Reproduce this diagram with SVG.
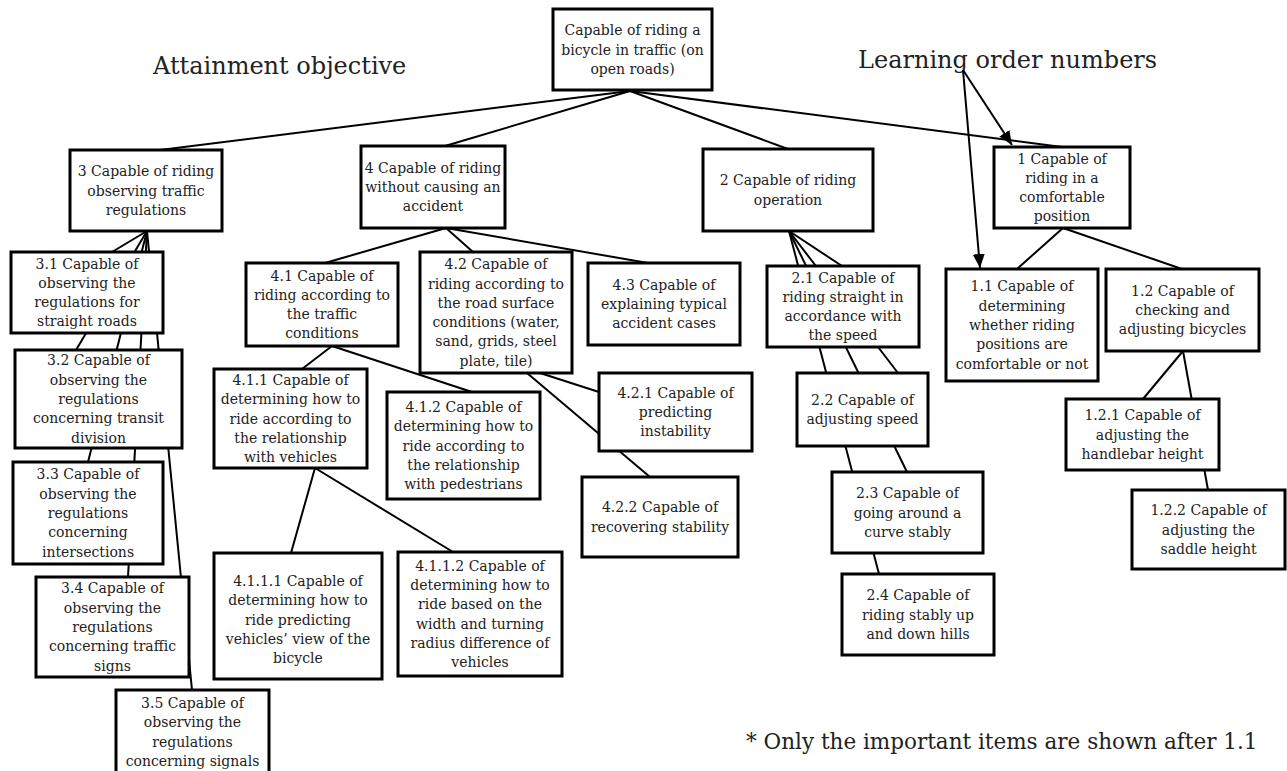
<svg xmlns="http://www.w3.org/2000/svg" width="1287" height="771" viewBox="0 0 1287 771">
<defs>
<style>
.box{fill:#fff;stroke:#000;stroke-width:3}
.t{font-family:"DejaVu Serif","Liberation Serif",serif;font-size:14px;fill:#222;text-anchor:middle}
.lbl{font-family:"DejaVu Serif","Liberation Serif",serif;fill:#222}
.c line{stroke:#000;stroke-width:2}
</style>
<marker id="ah" viewBox="0 0 14 12" refX="14" refY="6" markerWidth="14" markerHeight="12" markerUnits="userSpaceOnUse" orient="auto">
<path d="M0,0 L14,6 L0,12 Z" fill="#000"/>
</marker>
</defs>
<rect width="1287" height="771" fill="#fff"/>
<g id="labels">
<text class="lbl" x="153" y="74" font-size="24">Attainment objective</text>
<text class="lbl" x="858" y="68" font-size="24">Learning order numbers</text>
<text class="lbl" x="746" y="749" font-size="21.5">* Only the important items are shown after 1.1</text>
</g>
<g id="connectors" class="c">
<line x1="630" y1="91" x2="160" y2="150"/>
<line x1="630" y1="91" x2="445" y2="146"/>
<line x1="630" y1="91" x2="788" y2="149"/>
<line x1="630" y1="91" x2="1062" y2="147"/>
<line x1="147" y1="231" x2="112" y2="252"/>
<line x1="147" y1="231" x2="76" y2="350"/>
<line x1="147" y1="231" x2="88" y2="462"/>
<line x1="147" y1="231" x2="128" y2="577"/>
<line x1="147" y1="231" x2="192" y2="690"/>
<line x1="446" y1="228" x2="325" y2="263"/>
<line x1="446" y1="228" x2="473" y2="252"/>
<line x1="446" y1="228" x2="648" y2="263"/>
<line x1="332" y1="346" x2="302" y2="369"/>
<line x1="332" y1="346" x2="472" y2="392"/>
<line x1="315" y1="468" x2="291" y2="553"/>
<line x1="315" y1="468" x2="453" y2="552"/>
<line x1="540" y1="373" x2="599" y2="392"/>
<line x1="527" y1="373" x2="650" y2="477"/>
<line x1="789" y1="231" x2="842" y2="266"/>
<line x1="789" y1="231" x2="898" y2="373"/>
<line x1="789" y1="231" x2="907" y2="472"/>
<line x1="789" y1="231" x2="879" y2="574"/>
<line x1="1063" y1="228" x2="1017" y2="269"/>
<line x1="1063" y1="228" x2="1182" y2="269"/>
<line x1="1183" y1="351" x2="1143" y2="399"/>
<line x1="1183" y1="351" x2="1208" y2="490"/>
<line x1="963" y1="70" x2="1012" y2="145" marker-end="url(#ah)"/>
<line x1="963" y1="70" x2="980" y2="268" marker-end="url(#ah)"/>
</g>
<g id="root"><rect class="box" x="553" y="9" width="159" height="81"/><text class="t" x="632.5" y="35.2">Capable of riding a<tspan x="632.5" dy="19.3">bicycle in traffic (on</tspan><tspan x="632.5" dy="19.3">open roads)</tspan></text></g>
<g id="n3"><rect class="box" x="70" y="150" width="152" height="81"/><text class="t" x="146" y="176.2">3 Capable of riding<tspan x="146" dy="19.3">observing traffic</tspan><tspan x="146" dy="19.3">regulations</tspan></text></g>
<g id="n4"><rect class="box" x="361" y="146" width="144" height="82"/><text class="t" x="433" y="172.7">4 Capable of riding<tspan x="433" dy="19.3">without causing an</tspan><tspan x="433" dy="19.3">accident</tspan></text></g>
<g id="n2"><rect class="box" x="703" y="149" width="170" height="82"/><text class="t" x="788" y="185.35">2 Capable of riding<tspan x="788" dy="19.3">operation</tspan></text></g>
<g id="n1"><rect class="box" x="994" y="147" width="136" height="81"/><text class="t" x="1062" y="163.55">1 Capable of<tspan x="1062" dy="19.3">riding in a</tspan><tspan x="1062" dy="19.3">comfortable</tspan><tspan x="1062" dy="19.3">position</tspan></text></g>
<g id="n3_1"><rect class="box" x="11" y="252" width="152" height="81"/><text class="t" x="87" y="268.55">3.1 Capable of<tspan x="87" dy="19.3">observing the</tspan><tspan x="87" dy="19.3">regulations for</tspan><tspan x="87" dy="19.3">straight roads</tspan></text></g>
<g id="n3_2"><rect class="box" x="15" y="350" width="167" height="98"/><text class="t" x="98.5" y="365.4">3.2 Capable of<tspan x="98.5" dy="19.3">observing the</tspan><tspan x="98.5" dy="19.3">regulations</tspan><tspan x="98.5" dy="19.3">concerning transit</tspan><tspan x="98.5" dy="19.3">division</tspan></text></g>
<g id="n3_3"><rect class="box" x="13" y="462" width="150" height="102"/><text class="t" x="88" y="479.4">3.3 Capable of<tspan x="88" dy="19.3">observing the</tspan><tspan x="88" dy="19.3">regulations</tspan><tspan x="88" dy="19.3">concerning</tspan><tspan x="88" dy="19.3">intersections</tspan></text></g>
<g id="n3_4"><rect class="box" x="36" y="577" width="153" height="100"/><text class="t" x="112.5" y="593.4">3.4 Capable of<tspan x="112.5" dy="19.3">observing the</tspan><tspan x="112.5" dy="19.3">regulations</tspan><tspan x="112.5" dy="19.3">concerning traffic</tspan><tspan x="112.5" dy="19.3">signs</tspan></text></g>
<g id="n3_5"><rect class="box" x="116" y="690" width="153" height="86"/><text class="t" x="192.5" y="708">3.5 Capable of<tspan x="192.5" dy="19.3">observing the</tspan><tspan x="192.5" dy="19.3">regulations</tspan><tspan x="192.5" dy="19.3">concerning signals</tspan></text></g>
<g id="n4_1"><rect class="box" x="246" y="263" width="152" height="83"/><text class="t" x="322" y="280.55">4.1 Capable of<tspan x="322" dy="19.3">riding according to</tspan><tspan x="322" dy="19.3">the traffic</tspan><tspan x="322" dy="19.3">conditions</tspan></text></g>
<g id="n4_2"><rect class="box" x="420" y="252" width="152" height="121"/><text class="t" x="496" y="269.25">4.2 Capable of<tspan x="496" dy="19.3">riding according to</tspan><tspan x="496" dy="19.3">the road surface</tspan><tspan x="496" dy="19.3">conditions (water,</tspan><tspan x="496" dy="19.3">sand, grids, steel</tspan><tspan x="496" dy="19.3">plate, tile)</tspan></text></g>
<g id="n4_3"><rect class="box" x="588" y="263" width="152" height="82"/><text class="t" x="664" y="289.7">4.3 Capable of<tspan x="664" dy="19.3">explaining typical</tspan><tspan x="664" dy="19.3">accident cases</tspan></text></g>
<g id="n4_1_1"><rect class="box" x="214" y="369" width="153" height="99"/><text class="t" x="290.5" y="384.9">4.1.1 Capable of<tspan x="290.5" dy="19.3">determining how to</tspan><tspan x="290.5" dy="19.3">ride according to</tspan><tspan x="290.5" dy="19.3">the relationship</tspan><tspan x="290.5" dy="19.3">with vehicles</tspan></text></g>
<g id="n4_1_2"><rect class="box" x="387" y="392" width="153" height="107"/><text class="t" x="463.5" y="411.9">4.1.2 Capable of<tspan x="463.5" dy="19.3">determining how to</tspan><tspan x="463.5" dy="19.3">ride according to</tspan><tspan x="463.5" dy="19.3">the relationship</tspan><tspan x="463.5" dy="19.3">with pedestrians</tspan></text></g>
<g id="n4_2_1"><rect class="box" x="599" y="373" width="153" height="78"/><text class="t" x="675.5" y="397.7">4.2.1 Capable of<tspan x="675.5" dy="19.3">predicting</tspan><tspan x="675.5" dy="19.3">instability</tspan></text></g>
<g id="n4_2_2"><rect class="box" x="582" y="477" width="156" height="80"/><text class="t" x="660" y="512.35">4.2.2 Capable of<tspan x="660" dy="19.3">recovering stability</tspan></text></g>
<g id="n4_1_1_1"><rect class="box" x="214" y="553" width="168" height="126"/><text class="t" x="298" y="586">4.1.1.1 Capable of<tspan x="298" dy="19.3">determining how to</tspan><tspan x="298" dy="19.3">ride predicting</tspan><tspan x="298" dy="19.3">vehicles’ view of the</tspan><tspan x="298" dy="19.3">bicycle</tspan></text></g>
<g id="n4_1_1_2"><rect class="box" x="398" y="552" width="164" height="124"/><text class="t" x="480" y="570.75">4.1.1.2 Capable of<tspan x="480" dy="19.3">determining how to</tspan><tspan x="480" dy="19.3">ride based on the</tspan><tspan x="480" dy="19.3">width and turning</tspan><tspan x="480" dy="19.3">radius difference of</tspan><tspan x="480" dy="19.3">vehicles</tspan></text></g>
<g id="n2_1"><rect class="box" x="767" y="266" width="152" height="81"/><text class="t" x="843" y="282.55">2.1 Capable of<tspan x="843" dy="19.3">riding straight in</tspan><tspan x="843" dy="19.3">accordance with</tspan><tspan x="843" dy="19.3">the speed</tspan></text></g>
<g id="n2_2"><rect class="box" x="797" y="373" width="131" height="73"/><text class="t" x="862.5" y="404.85">2.2 Capable of<tspan x="862.5" dy="19.3">adjusting speed</tspan></text></g>
<g id="n2_3"><rect class="box" x="832" y="472" width="151" height="81"/><text class="t" x="907.5" y="498.2">2.3 Capable of<tspan x="907.5" dy="19.3">going around a</tspan><tspan x="907.5" dy="19.3">curve stably</tspan></text></g>
<g id="n2_4"><rect class="box" x="842" y="574" width="152" height="81"/><text class="t" x="918" y="600.2">2.4 Capable of<tspan x="918" dy="19.3">riding stably up</tspan><tspan x="918" dy="19.3">and down hills</tspan></text></g>
<g id="n1_1"><rect class="box" x="946" y="269" width="152" height="112"/><text class="t" x="1022" y="291.4">1.1 Capable of<tspan x="1022" dy="19.3">determining</tspan><tspan x="1022" dy="19.3">whether riding</tspan><tspan x="1022" dy="19.3">positions are</tspan><tspan x="1022" dy="19.3">comfortable or not</tspan></text></g>
<g id="n1_2"><rect class="box" x="1106" y="269" width="153" height="82"/><text class="t" x="1182.5" y="295.7">1.2 Capable of<tspan x="1182.5" dy="19.3">checking and</tspan><tspan x="1182.5" dy="19.3">adjusting bicycles</tspan></text></g>
<g id="n1_2_1"><rect class="box" x="1066" y="399" width="153" height="71"/><text class="t" x="1142.5" y="420.2">1.2.1 Capable of<tspan x="1142.5" dy="19.3">adjusting the</tspan><tspan x="1142.5" dy="19.3">handlebar height</tspan></text></g>
<g id="n1_2_2"><rect class="box" x="1132" y="490" width="153" height="79"/><text class="t" x="1208.5" y="515.2">1.2.2 Capable of<tspan x="1208.5" dy="19.3">adjusting the</tspan><tspan x="1208.5" dy="19.3">saddle height</tspan></text></g>
</svg>
